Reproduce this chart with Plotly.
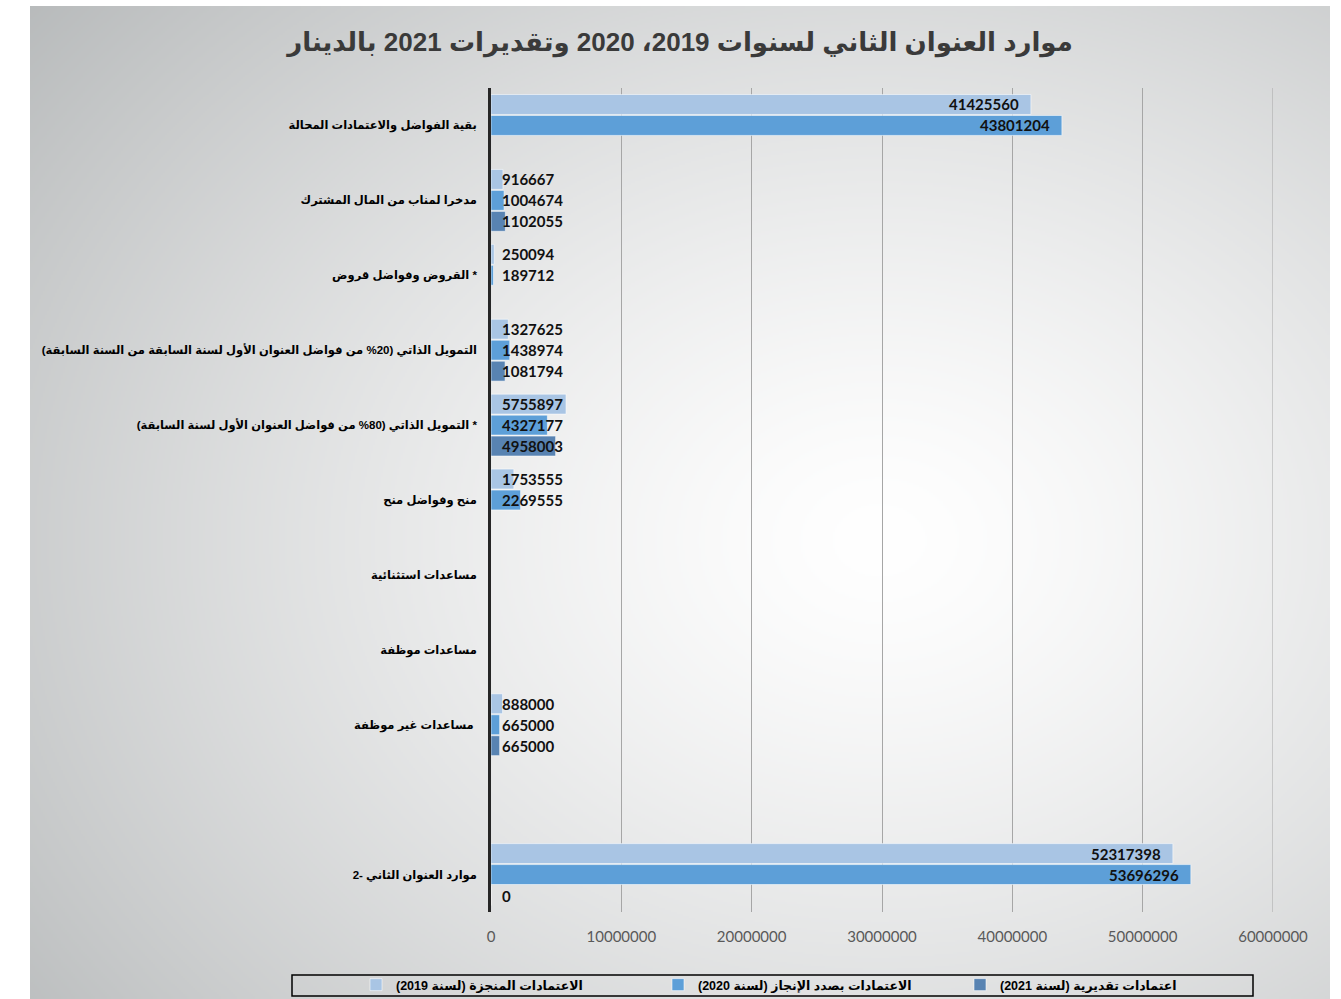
import base64
import struct
import zlib

import numpy as np
import plotly.graph_objects as go

# ---------------- data ----------------
RLE, PDF = "\u202b", "\u202c"

categories = [
    RLE + "بقية الفواضل والاعتمادات المحالة" + PDF,
    RLE + "مدخرا لمناب من المال المشترك" + PDF,
    RLE + "* القروض وفواضل قروض" + PDF,
    RLE + "التمويل الذاتي (20% من فواضل العنوان الأول لسنة السابقة من السنة السابقة)" + PDF,
    RLE + "* التمويل الذاتي (80% من فواضل العنوان الأول لسنة السابقة)" + PDF,
    RLE + "منح وفواضل منح" + PDF,
    RLE + "مساعدات استثنائية" + PDF,
    RLE + "مساعدات موظفة" + PDF,
    RLE + "مساعدات غير موظفة " + PDF,
    "",
    "2- موارد العنوان الثاني",
]

values_2019 = [41425560, 916667, 250094, 1327625, 5755897, 1753555, None, None, 888000, None, 52317398]
values_2020 = [43801204, 1004674, 189712, 1438974, 4327177, 2269555, None, None, 665000, None, 53696296]
values_2021 = [None, 1102055, None, 1081794, 4958003, None, None, None, 665000, None, 0]

series_names = [
    RLE + "الاعتمادات المنجزة (لسنة 2019)" + PDF,
    RLE + "الاعتمادات بصدد الإنجاز (لسنة 2020)" + PDF,
    RLE + "اعتمادات تقديرية (لسنة 2021)" + PDF,
]
series_values = [values_2019, values_2020, values_2021]
series_colors = ["#a9c5e4", "#5d9fd8", "#5883b2"]

x_tick_values = [0, 10000000, 20000000, 30000000, 40000000, 50000000, 60000000]
x_tick_labels = ["0", "10000000", "20000000", "30000000", "40000000", "50000000", "60000000"]

title_text = RLE + "موارد العنوان الثاني لسنوات 2019، 2020 وتقديرات 2021 بالدينار" + PDF

# ---------------- geometry (pixels) ----------------
W, H = 1341, 999
L, R, T, B = 491, 68, 88, 87
PW, PH = W - L - R, H - T - B


def px_to_paper_x(px):
    return (px - L) / PW


def px_to_paper_y(py):
    return (H - B - py) / PH


# ---------------- background gradient image ----------------
def png_data_uri(rgb):
    h, w, _ = rgb.shape
    raw = b"".join(b"\x00" + rgb[i].tobytes() for i in range(h))

    def chunk(tag, data):
        return (struct.pack(">I", len(data)) + tag + data
                + struct.pack(">I", zlib.crc32(tag + data) & 0xFFFFFFFF))

    png = (b"\x89PNG\r\n\x1a\n"
           + chunk(b"IHDR", struct.pack(">IIBBBBB", w, h, 8, 2, 0, 0, 0))
           + chunk(b"IDAT", zlib.compress(raw, 9))
           + chunk(b"IEND", b""))
    return "data:image/png;base64," + base64.b64encode(png).decode()


bg_x0, bg_x1, bg_y0, bg_y1 = 30, 1330, 6, 999
gw, gh = (bg_x1 - bg_x0) // 2, (bg_y1 - bg_y0) // 2
gx = np.linspace(bg_x0, bg_x1, gw)
gy = np.linspace(bg_y0, bg_y1, gh)
XX, YY = np.meshgrid(gx, gy)
rr = np.sqrt(((XX - 880) / 820) ** 2 + ((YY - 540) / 640) ** 2)
tt = np.clip(rr / 1.45, 0, 1) ** 1.35
c_in = np.array([255, 255, 255], dtype=float)
c_out = np.array([176, 179, 180], dtype=float)
img = (c_in[None, None, :] * (1 - tt[..., None]) + c_out[None, None, :] * tt[..., None])
img = np.clip(img, 0, 255).astype(np.uint8)
bg_uri = png_data_uri(img)

# ---------------- figure ----------------
fig = go.Figure()
n = len(categories)
ypos = list(range(n))

for name, vals, col in zip(series_names, series_values, series_colors):
    fig.add_trace(go.Bar(
        orientation="h", y=ypos, x=vals, name=name,
        marker=dict(color=col, line=dict(color="rgba(255,255,255,0.55)", width=1)),
        hoverinfo="x+name",
    ))

bargap = 0.16
slot = (1 - bargap) / len(series_values)
big_threshold = 10000000
label_font = dict(family="Lato, Open Sans", size=15, color="#111111", weight=700)
annotations = []
for k, vals in enumerate(series_values):
    off = (k - (len(series_values) - 1) / 2) * slot
    for i, v in enumerate(vals):
        if v is None:
            continue
        if v >= big_threshold:
            annotations.append(dict(x=v, y=i + off, xref="x", yref="y", text=str(v),
                                    showarrow=False, xanchor="right", xshift=-10, font=label_font))
        else:
            annotations.append(dict(x=0, y=i + off, xref="x", yref="y", text=str(v),
                                    showarrow=False, xanchor="left", xshift=9, font=label_font))

grid_color = "#a6a6a6"

fig.update_layout(
    width=W, height=H,
    margin=dict(l=L, r=R, t=T, b=B, pad=0, autoexpand=False),
    paper_bgcolor="white",
    plot_bgcolor="rgba(0,0,0,0)",
    barmode="group", bargap=bargap, bargroupgap=0.05,
    title=dict(text=title_text, x=680 / W, xanchor="center", y=1 - 42 / H, yanchor="middle",
               xref="container", yref="container",
               font=dict(family="Arial, Liberation Sans, DejaVu Sans", size=26, color="#3a3a3a", weight=700)),
    xaxis=dict(range=[0, x_tick_values[-1]], tickvals=x_tick_values, ticktext=x_tick_labels,
               showgrid=True, gridcolor=grid_color, gridwidth=1, zeroline=False, showline=False,
               ticks="outside", ticklen=11, tickcolor="rgba(0,0,0,0)", automargin=False,
               tickfont=dict(family="Lato, Open Sans", size=15, color="#595959")),
    yaxis=dict(range=[n - 0.5, -0.5], tickvals=ypos, ticktext=categories,
               showgrid=False, zeroline=False, showline=True, linecolor="#262626", linewidth=2.5,
               ticks="outside", ticklen=9, tickcolor="rgba(0,0,0,0)", automargin=False,
               tickfont=dict(family="Arial, Liberation Sans, DejaVu Sans", size=11.5, color="#000000", weight=700)),
    legend=dict(orientation="h", x=px_to_paper_x(356), xanchor="left",
                y=px_to_paper_y(970), yanchor="top",
                entrywidth=257, entrywidthmode="pixels",
                bgcolor="rgba(0,0,0,0)", borderwidth=0,
                font=dict(family="Arial, Liberation Sans, DejaVu Sans", size=12.5, color="#000000", weight=700)),
    annotations=annotations,
    images=[dict(source=bg_uri, xref="paper", yref="paper",
                 x=px_to_paper_x(bg_x0), y=px_to_paper_y(bg_y0),
                 sizex=(bg_x1 - bg_x0) / PW, sizey=(bg_y1 - bg_y0) / PH,
                 xanchor="left", yanchor="top", sizing="stretch", layer="below")],
    shapes=[
        dict(type="rect", xref="paper", yref="paper",
             x0=px_to_paper_x(292), x1=px_to_paper_x(1253),
             y0=px_to_paper_y(996), y1=px_to_paper_y(975),
             line=dict(color="#000000", width=1.5), fillcolor="rgba(0,0,0,0)"),
        # final gridline at the top of the value axis (Plotly skips it at the range edge)
        dict(type="line", xref="x", yref="paper", x0=x_tick_values[-1], x1=x_tick_values[-1],
             y0=0, y1=1, line=dict(color=grid_color, width=1), layer="below"),
    ],
    showlegend=True,
)

fig.write_html("out.html", config={"displayModeBar": False},
               post_script="document.body.style.margin='0';")
